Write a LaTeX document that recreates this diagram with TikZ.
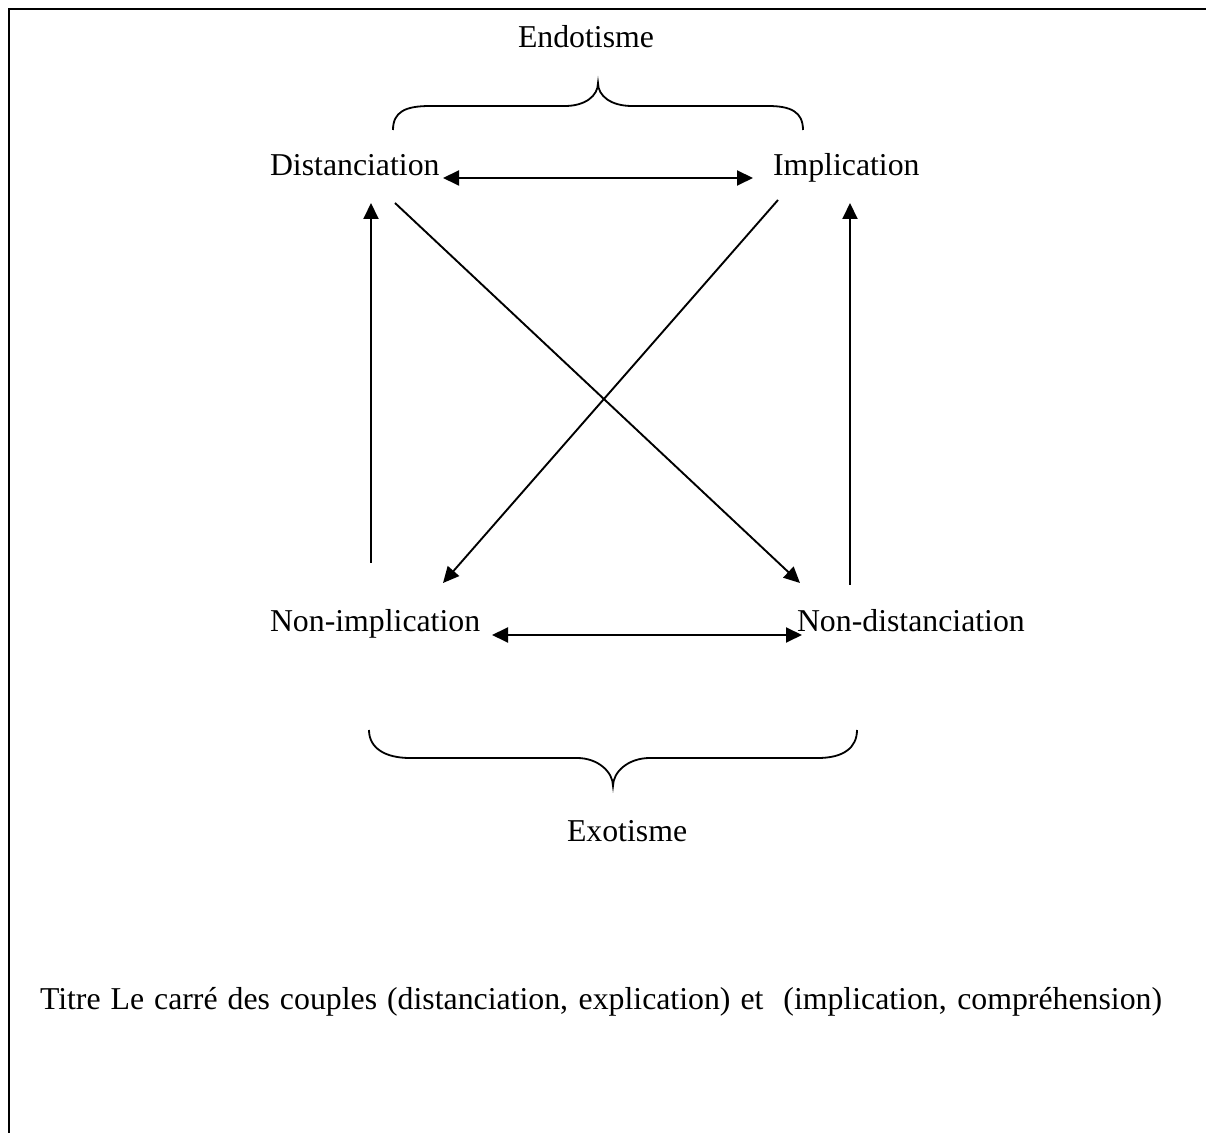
\documentclass[tikz,border=0pt]{standalone}
\usepackage{fontspec}
\setmainfont{Liberation Serif}
\usetikzlibrary{arrows.meta}
\tikzset{
  lbl/.style={inner sep=0pt, outer sep=0pt, anchor=base west,
              font=\fontsize{15.9}{18}\selectfont},
  link/.style={line width=0.95pt, -{Triangle[length=8pt,width=7.5pt]}},
  dlink/.style={line width=0.95pt, {Triangle[length=8pt,width=7.5pt]}-{Triangle[length=8pt,width=7.5pt]}},
  brace/.style={line width=0.9pt},
  frame/.style={line width=1.1pt}
}
\begin{document}
\begin{tikzpicture}[x=0.5pt,y=-0.5pt]
  \useasboundingbox (0,0) rectangle (1206,1133);
  % page frame (left and top edges)
  \draw[frame] (9,1133) -- (9,9) -- (1206,9);

  % labels
  \node[lbl] (endo) at (518,48) {Endotisme};
  \node[lbl] (dist) at (270,176) {Distanciation};
  \node[lbl] (impl) at (773,176) {Implication};
  \node[lbl] (nimpl) at (270,632) {Non-implication};
  \node[lbl] (ndist) at (797,632) {Non-distanciation};
  \node[lbl] (exo) at (567,842) {Exotisme};
  \node[lbl] (title) at (40,1009) {\makebox[561pt][s]{Titre Le carré des couples (distanciation, explication) et\ \ (implication, compréhension)}};

  % connector end points
  \coordinate (dR) at (443,178);
  \coordinate (iL) at (753,178);
  \coordinate (nR) at (492,635);
  \coordinate (ndL) at (802,635);
  \coordinate (dDiag) at (395,203);
  \coordinate (ndDiag) at (800,583);
  \coordinate (iDiag) at (778,200);
  \coordinate (nDiag) at (443,583);
  \coordinate (dUp) at (371,203);
  \coordinate (nUp) at (371,563);
  \coordinate (iUp) at (850,203);
  \coordinate (ndUp) at (850,585);

  % arrows
  \draw[dlink] (dR) -- (iL);
  \draw[dlink] (nR) -- (ndL);
  \draw[link] (dDiag) -- (ndDiag);
  \draw[link] (iDiag) -- (nDiag);
  \draw[link] (nUp) -- (dUp);
  \draw[link] (ndUp) -- (iUp);

  % braces
  \draw[brace] (393,130) .. controls (393,112) and (405,106) .. (430,106) -- (565,106)
    .. controls (585,106) and (598,96) .. (598,83)
    .. controls (598,96) and (611,106) .. (632,106) -- (768,106)
    .. controls (791,106) and (803,112) .. (803,130);
  \draw[brace] (369,730) .. controls (369,748) and (385,758) .. (410,758) -- (577,758)
    .. controls (598,758) and (613,772) .. (613,786)
    .. controls (613,772) and (628,758) .. (650,758) -- (818,758)
    .. controls (843,758) and (857,748) .. (857,730);
\end{tikzpicture}
\end{document}
